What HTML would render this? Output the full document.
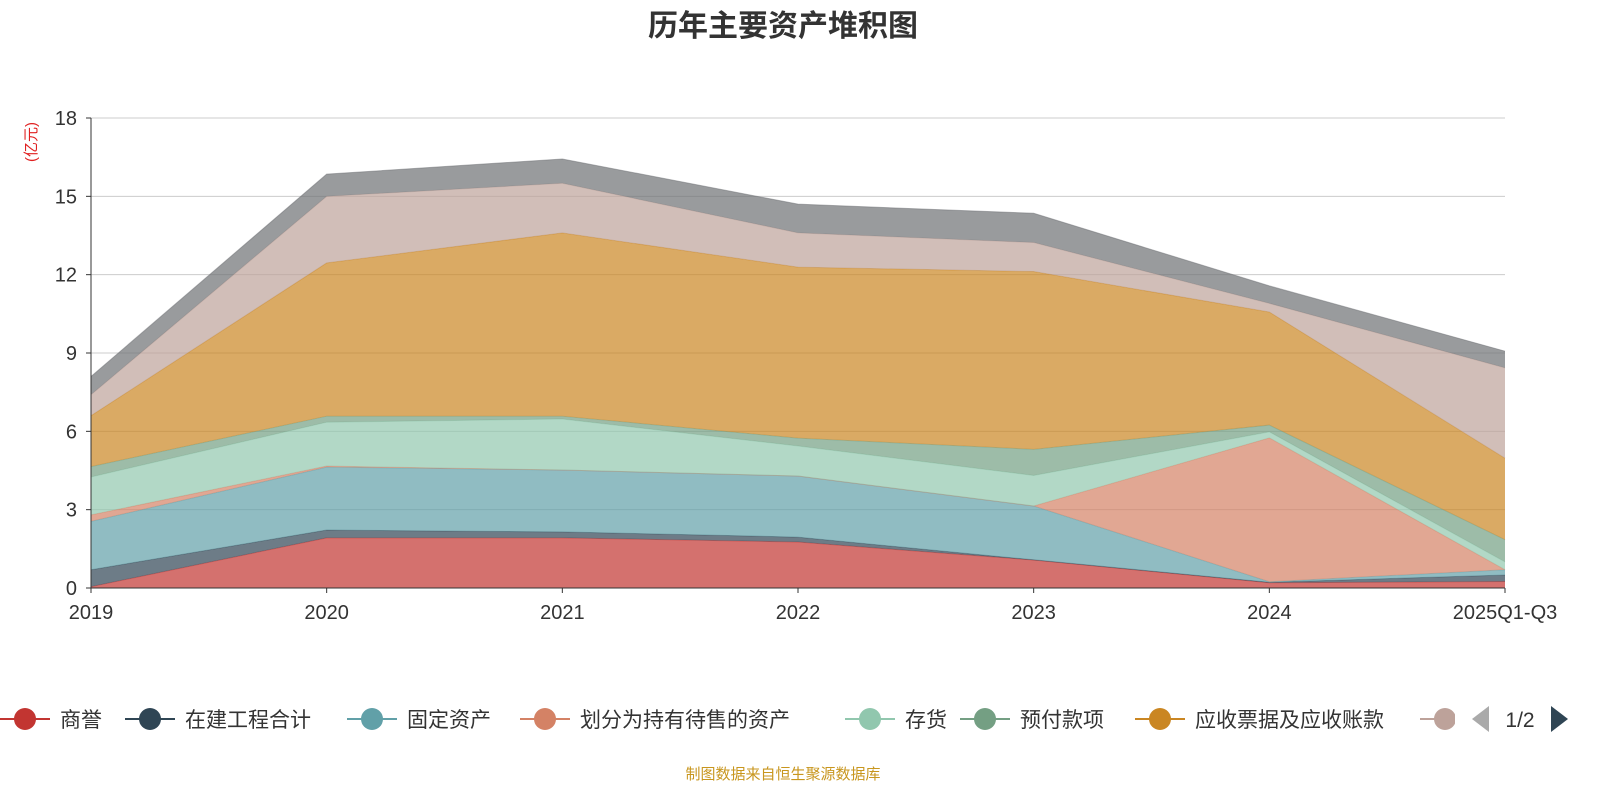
<!DOCTYPE html>
<html><head><meta charset="utf-8"><style>
html,body{margin:0;padding:0;background:#fff;}
svg{display:block;font-family:"Liberation Sans","Noto Sans CJK SC",sans-serif;}
</style></head><body>
<svg id="chart" width="1600" height="800">
<text x="783" y="36" text-anchor="middle" font-size="30" font-weight="bold" fill="#333">历年主要资产堆积图</text>
<text transform="translate(36,142) rotate(-90)" text-anchor="middle" font-size="15" fill="#e02020">(亿元)</text>
<g id="grid"></g><g id="areas"></g><g id="axes"></g><g id="legend"></g>
<text x="783" y="779" text-anchor="middle" font-size="15" fill="#c8961e">制图数据来自恒生聚源数据库</text>
</svg>
<script>
const categories=["2019","2020","2021","2022","2023","2024","2025Q1-Q3"];
const seriesNames=["商誉","在建工程合计","固定资产","划分为持有待售的资产","存货","预付款项","应收票据及应收账款","其他应收款","其他"];
const sGoodwill=[0.05,1.92,1.92,1.76,1.07,0.2,0.25];
const sConstruction=[0.65,0.3,0.23,0.19,0.01,0.02,0.25];
const sFixed=[1.85,2.41,2.37,2.34,2.06,0.02,0.2];
const sHeldForSale=[0.25,0.04,0,0,0,5.51,0];
const sInventory=[1.45,1.68,1.95,1.15,1.17,0.23,0.3];
const sPrepaid=[0.4,0.23,0.11,0.3,1.0,0.26,0.85];
const sReceivables=[1.95,5.87,7.02,6.55,6.81,4.33,3.12];
const sOtherRecv=[0.8,2.55,1.9,1.31,1.11,0.33,3.46];
const sOther=[0.7,0.85,0.93,1.1,1.12,0.67,0.64];
const yTicks=[0,3,6,9,12,15,18];
const series=[sGoodwill,sConstruction,sFixed,sHeldForSale,sInventory,sPrepaid,sReceivables,sOtherRecv,sOther];
const colors=["#c23531","#2f4554","#61a0a8","#d48265","#91c7ae","#749f83","#ca8622","#bda29a","#6e7074"];
const NS="http://www.w3.org/2000/svg";
const X0=91,X1=1505,Y0=588,Y1=118;
const xs=i=>X0+(X1-X0)*i/(categories.length-1);
const ys=v=>Y0-(Y0-Y1)*v/18;
function mk(t,a,p){const e=document.createElementNS(NS,t);for(const k in a)e.setAttribute(k,a[k]);p.appendChild(e);return e;}
const grid=document.getElementById('grid'),axes=document.getElementById('axes'),areas=document.getElementById('areas'),leg=document.getElementById('legend');
yTicks.forEach(t=>{
 if(t>0){const l=mk('line',{x1:X0,x2:X1,y1:ys(t),y2:ys(t),stroke:'#ccc','stroke-width':1},grid);
 
 }
 const tx=mk('text',{x:X0-14,y:ys(t)+7,'text-anchor':'end','font-size':20,fill:'#333'},axes);tx.textContent=t;
 
 
 mk('line',{x1:X0-5,x2:X0,y1:ys(t),y2:ys(t),stroke:'#333'},axes);
});
mk('line',{x1:X0,x2:X0,y1:Y1,y2:Y0,stroke:'#333'},axes);
mk('line',{x1:X0,x2:X1,y1:Y0,y2:Y0,stroke:'#333'},axes);
categories.forEach((c,i)=>{
 mk('line',{x1:xs(i),x2:xs(i),y1:Y0,y2:Y0+5,stroke:'#333'},axes);
 const tx=mk('text',{x:xs(i),y:Y0+31,'text-anchor':'middle','font-size':20,fill:'#333'},axes);tx.textContent=c;
 
 
});
let base=categories.map(()=>0);
series.forEach((s,k)=>{
 const top=base.map((b,i)=>b+s[i]);
 let d='M'+top.map((v,i)=>xs(i)+','+ys(v)).join('L');
 for(let i=base.length-1;i>=0;i--)d+='L'+xs(i)+','+ys(base[i]);
 const p=mk('path',{d:d+'Z',fill:colors[k],'fill-opacity':0.7},areas);
 
 
 mk('polyline',{points:top.map((v,i)=>xs(i)+','+ys(v)).join(' '),fill:'none',stroke:colors[k],'stroke-opacity':0.5,'stroke-width':1},areas);
 base=top;
});
const legX=[25,150,372,545,870,985,1160,1445];
const legW=[0,0,0,0,0,0,0,0];
legX.forEach((x,k)=>{
 const g=mk('g',{},leg);
 
 
 mk('line',{x1:x-25,x2:x+25,y1:719,y2:719,stroke:colors[k],'stroke-width':2},g);
 mk('circle',{cx:x,cy:719,r:11,fill:colors[k]},g);
 if(k<7){const t=mk('text',{x:x+35,y:727,'font-size':21,fill:'#333'},g);t.textContent=seriesNames[k];}
});
mk('rect',{x:1455,y:690,width:10,height:60,fill:'#fff'},leg);
mk('rect',{x:1465,y:690,width:135,height:60,fill:'#fff'},leg);
const pl=mk('path',{d:'M1489,706L1472,719L1489,732Z',fill:'#aaa'},leg);


const pt=mk('text',{x:1520,y:727,'text-anchor':'middle','font-size':21,fill:'#333'},leg);pt.textContent='1/2';
const pr=mk('path',{d:'M1551,706L1568,719L1551,732Z',fill:'#2f4554'},leg);


</script>
</body></html>
